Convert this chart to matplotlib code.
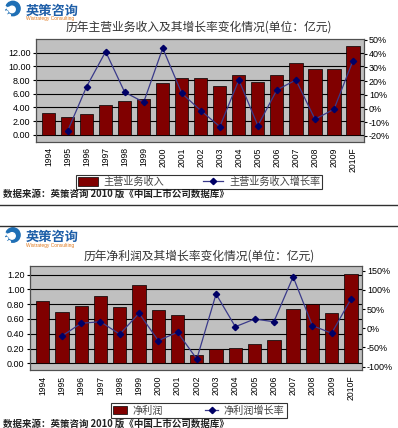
import matplotlib
matplotlib.use('Agg')
import matplotlib.pyplot as plt
from matplotlib.patches import Circle, Patch
from matplotlib.lines import Line2D
import numpy as np

W, H = 398, 428

years = ['1994', '1995', '1996', '1997', '1998', '1999', '2000', '2001', '2002',
         '2003', '2004', '2005', '2006', '2007', '2008', '2009', '2010F']

# main business revenue (100M yuan) and its growth rate (%)
revenue = [3.2, 2.66, 3.1, 4.4, 4.94, 5.2, 7.56, 8.37, 8.28,
           7.17, 8.72, 7.65, 8.72, 10.5, 9.68, 9.68, 13.0]
revenue_growth = [np.nan, -16.4, 16.0, 41.5, 11.9, 4.6, 44.0, 11.1, -1.5,
                  -13.2, 20.8, -12.5, 13.6, 20.8, -7.8, -0.5, 35.0]

# net profit (100M yuan) and its growth rate (%)
profit = [0.847, 0.69, 0.77, 0.907, 0.762, 1.06, 0.72, 0.65, 0.108,
          0.20, 0.21, 0.265, 0.315, 0.74, 0.80, 0.685, 1.21]
profit_growth = [np.nan, -20, 13, 17, -15.5, 39, -32, -10.4, -80,
                 89, 4, 24, 17, 134, 7, -13, 76]

title1 = '历年主营业务收入及其增长率变化情况(单位：亿元)'
title2 = '历年净利润及其增长率变化情况(单位：亿元)'
legend1 = ['主营业务收入', '主营业务收入增长率']
legend2 = ['净利润', '净利润增长率']
source = '数据来源：英策咨询 2010 版《中国上市公司数据库》'

CJK = ['Noto Sans CJK SC', 'DejaVu Sans']
plt.rcParams['font.family'] = ['Liberation Sans', 'DejaVu Sans']

BAR = '#800000'
LINE = '#3a3a8a'
MARK = '#000066'
BG = '#c0c0c0'


def fx(x):
    return x / W


def fy(y):
    return 1 - y / H


def logo(fig, y):
    ax = fig.add_axes([fx(3), fy(y + 7), fx(18), 18 / H])
    ax.set_xlim(0, 1)
    ax.set_ylim(0, 1)
    ax.set_aspect('equal')
    ax.axis('off')
    ax.add_patch(Circle((0.55, 0.5), 0.4, color='#1f6fb5'))
    ax.add_patch(Circle((0.5, 0.45), 0.18, color='white'))
    for cx, cy in [(0.12, 0.55), (0.2, 0.3), (0.35, 0.12), (0.3, 0.5)]:
        ax.add_patch(Circle((cx, cy), 0.06, color='white'))
    fig.text(fx(26), fy(y), '英策咨询', family=CJK, fontsize=9.5,
             fontweight='bold', color='#1f5fa8', va='center')
    fig.text(fx(26), fy(y + 8), 'Wistrategy Consulting', fontsize=3.5,
             color='#e07a20', va='center')


def chart(fig, rect, bars, growth, lims, rlims, lticks, rticks, names,
          title, title_y, legend_y, source_y, logo_y, hlen, cspace):
    left, top, right, bottom = rect
    ax = fig.add_axes([fx(left), fy(bottom), fx(right - left), (bottom - top) / H])
    x = np.arange(len(years))
    ax.set_facecolor(BG)
    ax.bar(x, bars, width=0.69, color=BAR, edgecolor='black', linewidth=0.5, zorder=3)
    ax.set_xlim(-0.66, len(years) - 0.45)
    ax.set_ylim(*lims)
    ax.set_yticks(lticks)
    ax.set_yticklabels(['%.2f' % t for t in lticks], fontsize=6.5)
    ax.yaxis.grid(True, color='black', linewidth=0.8, zorder=1)
    ax.set_xticks(x)
    ax.set_xticklabels(years, rotation=90, fontsize=6.2)
    ax.tick_params(axis='x', length=0, pad=4)
    ax.tick_params(axis='y', length=2, pad=2)
    for s in ['top', 'right', 'bottom']:
        ax.spines[s].set_color('#505050')
    ax.spines['left'].set_color('black')

    ax2 = ax.twinx()
    ax2.plot(x, growth, color=LINE, linewidth=0.9, marker='D', markersize=3.2,
             markerfacecolor=MARK, markeredgecolor=MARK, zorder=5)
    ax2.set_ylim(*rlims)
    ax2.set_yticks(rticks)
    ax2.set_yticklabels(['%d%%' % t for t in rticks], fontsize=6.5)
    ax2.tick_params(axis='y', length=2, pad=2)
    for s in ax2.spines.values():
        s.set_color('#505050')

    fig.text(0.5, fy(title_y), title, family=CJK, fontsize=8.5, ha='center',
             va='center', color='#333333')

    handles = [Patch(facecolor=BAR, edgecolor='black', linewidth=0.5),
               Line2D([0], [0], color=LINE, linewidth=0.9, marker='D', markersize=3.2,
                      markerfacecolor=MARK, markeredgecolor=MARK)]
    leg = fig.legend(handles, names, loc='center', bbox_to_anchor=(0.5, fy(legend_y)),
                     ncol=2, frameon=True, fancybox=False, prop={'family': CJK, 'size': 7.3},
                     borderpad=0.2, handlelength=hlen, handleheight=0.9,
                     columnspacing=cspace, handletextpad=0.55, labelspacing=0.1)
    leg.get_frame().set_edgecolor('black')
    leg.get_frame().set_linewidth(0.8)
    for t in leg.get_texts():
        t.set_color('#444444')

    fig.text(fx(3), fy(source_y), source, family=CJK, fontsize=6.8,
             fontweight='bold', va='center', color='#222222')
    logo(fig, logo_y)


fig = plt.figure(figsize=(W / 100, H / 100), dpi=100)

chart(fig, (36, 39, 363.5, 141.7), revenue, revenue_growth, (-1, 14), (-24.2, 50.7),
      [0, 2, 4, 6, 8, 10, 12], [-20, -10, 0, 10, 20, 30, 40, 50], legend1,
      title1, 27, 182, 193.5, 10.5, 2.0, 3.8)

chart(fig, (30, 266, 361.5, 370), profit, profit_growth, (-0.09, 1.317), (-108.6, 162),
      [0, 0.2, 0.4, 0.6, 0.8, 1.0, 1.2], [-100, -50, 0, 50, 100, 150], legend2,
      title2, 256.5, 410.5, 424, 237, 1.3, 4.2)

for yy in [205, 225.5]:
    fig.add_artist(Line2D([0, 1], [fy(yy), fy(yy)], color='#303030', linewidth=1))

fig.savefig('out.png', dpi=100)
